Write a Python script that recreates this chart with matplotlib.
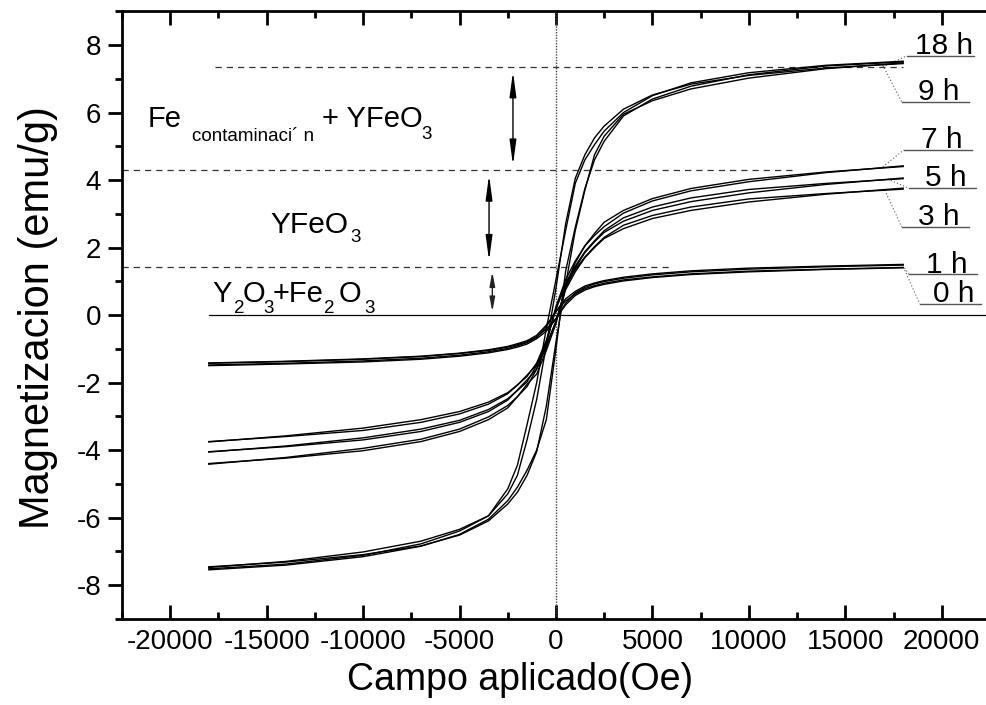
import matplotlib
matplotlib.use("Agg")
import matplotlib.pyplot as plt
from matplotlib.ticker import MultipleLocator

plt.rcParams['font.family'] = ['Liberation Sans', 'DejaVu Sans']

# Applied field grid (Oe) shared by every branch
field = [-18000, -14000, -10000, -7000, -5000, -3500, -2500, -2000, -1500, -1000, -500, 0,
         500, 1000, 1500, 2000, 2500, 3500, 5000, 7000, 10000, 14000, 18000]

# Magnetization (emu/g): descending branch (field going down) and ascending branch
m18_desc = [-7.52, -7.38, -7.12, -6.78, -6.40, -5.95, -5.15, -4.45, -3.25, -2.00, -0.40, 1.05,
            2.50, 3.90, 4.60, 5.05, 5.45, 6.00, 6.50, 6.88, 7.18, 7.40, 7.52]
m18_asc = [-7.55, -7.41, -7.16, -6.85, -6.50, -6.05, -5.50, -5.10, -4.60, -4.00, -3.10, -1.00,
           1.30, 2.60, 3.75, 4.60, 5.15, 5.90, 6.40, 6.78, 7.12, 7.38, 7.50]

m9_desc = [-7.48, -7.30, -7.02, -6.70, -6.35, -5.95, -5.30, -4.75, -3.70, -2.50, -0.90, 0.80,
           2.70, 4.05, 4.75, 5.25, 5.60, 6.10, 6.52, 6.84, 7.10, 7.32, 7.45]
m9_asc = [-7.46, -7.32, -7.10, -6.84, -6.52, -6.10, -5.60, -5.25, -4.75, -4.05, -2.70, -0.80,
          0.90, 2.50, 3.70, 4.75, 5.30, 5.95, 6.35, 6.70, 7.02, 7.30, 7.47]

m7_desc = [-4.42, -4.22, -3.95, -3.68, -3.38, -3.02, -2.68, -2.42, -2.12, -1.60, -0.85, 0.25,
           1.05, 1.60, 2.05, 2.42, 2.75, 3.10, 3.45, 3.75, 4.02, 4.24, 4.40]
m7_asc = [-4.40, -4.24, -4.02, -3.75, -3.45, -3.10, -2.75, -2.42, -2.05, -1.75, -1.05, -0.25,
          0.85, 1.55, 2.05, 2.36, 2.62, 3.02, 3.38, 3.68, 3.95, 4.22, 4.42]

m5_desc = [-4.06, -3.88, -3.64, -3.38, -3.12, -2.80, -2.48, -2.24, -1.98, -1.50, -0.80, 0.20,
           0.95, 1.45, 1.88, 2.20, 2.50, 2.88, 3.20, 3.47, 3.72, 3.90, 4.04]
m5_asc = [-4.05, -3.90, -3.70, -3.45, -3.18, -2.86, -2.52, -2.22, -1.92, -1.60, -0.95, -0.20,
          0.80, 1.40, 1.85, 2.17, 2.45, 2.78, 3.10, 3.36, 3.62, 3.87, 4.06]

m3_desc = [-3.76, -3.58, -3.35, -3.10, -2.86, -2.58, -2.30, -2.07, -1.82, -1.42, -0.75, 0.18,
           0.88, 1.35, 1.72, 2.03, 2.30, 2.66, 2.95, 3.20, 3.44, 3.60, 3.73]
m3_asc = [-3.75, -3.60, -3.42, -3.18, -2.93, -2.64, -2.33, -2.08, -1.78, -1.48, -0.88, -0.18,
          0.75, 1.28, 1.70, 2.00, 2.27, 2.56, 2.86, 3.10, 3.35, 3.58, 3.76]

m1_desc = [-1.48, -1.43, -1.36, -1.28, -1.19, -1.09, -0.99, -0.91, -0.82, -0.66, -0.35, 0.12,
           0.48, 0.70, 0.86, 0.95, 1.02, 1.12, 1.22, 1.31, 1.39, 1.45, 1.50]
m1_asc = [-1.50, -1.45, -1.39, -1.31, -1.22, -1.12, -1.02, -0.95, -0.86, -0.70, -0.48, -0.12,
          0.35, 0.66, 0.82, 0.92, 0.99, 1.09, 1.19, 1.28, 1.36, 1.43, 1.48]

m0_desc = [-1.42, -1.37, -1.30, -1.22, -1.13, -1.03, -0.93, -0.85, -0.76, -0.60, -0.30, 0.10,
           0.42, 0.62, 0.78, 0.87, 0.94, 1.04, 1.13, 1.22, 1.30, 1.36, 1.41]
m0_asc = [-1.43, -1.38, -1.31, -1.23, -1.14, -1.05, -0.95, -0.88, -0.79, -0.64, -0.42, -0.10,
          0.30, 0.58, 0.74, 0.84, 0.91, 1.01, 1.11, 1.20, 1.28, 1.35, 1.40]

loops = [(m0_desc, m0_asc), (m1_desc, m1_asc), (m3_desc, m3_asc), (m5_desc, m5_asc),
         (m7_desc, m7_asc), (m9_desc, m9_asc), (m18_desc, m18_asc)]

# Milling-time labels: underline level and the curve level the leader starts from
time_labels = ["18 h", "9 h", "7 h", "5 h", "3 h", "1 h", "0 h"]
label_line_m = [7.68, 6.31, 4.89, 3.76, 2.61, 1.21, 0.33]
curve_end_m = [7.35, 7.41, 4.39, 4.03, 3.70, 1.48, 1.33]

# Phase boundary levels (emu/g)
phase_levels = [7.35, 4.30, 1.43]

fig = plt.figure(figsize=(9.87, 7.05), dpi=100)
ax = fig.add_axes([0.1236, 0.1223, 0.8794, 0.8617])

for desc, asc in loops:
    ax.plot(field, desc, color='black', lw=1.0, zorder=3)
    ax.plot(field, asc, color='black', lw=1.0, zorder=3)

# Reference lines
ax.plot([-18000, 22500], [0, 0], color='black', lw=0.9, zorder=2)
ax.axvline(0, color='#444444', lw=1.0, ls=(0, (1, 1)), zorder=2)
ax.plot([-17700, 18000], [phase_levels[0]] * 2, color='#333333', lw=0.9,
        ls=(0, (5, 4)), zorder=2)
ax.plot([-22500, 12400], [phase_levels[1]] * 2, color='#333333', lw=0.9,
        ls=(0, (5, 4)), zorder=2)
ax.plot([-22500, 6000], [phase_levels[2]] * 2, color='#333333', lw=0.9,
        ls=(0, (5, 4)), zorder=2)

# Double arrows spanning each phase region
def vspan_arrow(x, y0, y1, hl, hw, color='black'):
    ax.annotate('', xy=(x, y1), xytext=(x, y0),
                arrowprops=dict(arrowstyle=f'<|-|>,head_length={hl},head_width={hw}',
                                color=color, lw=1.0, mutation_scale=10,
                                shrinkA=0, shrinkB=0))

vspan_arrow(-2230, 4.44, 7.21, 1.5, 0.2)
vspan_arrow(-3470, 1.61, 4.15, 1.5, 0.2)
vspan_arrow(-3300, 0.10, 1.28, 0.85, 0.16, color='#222222')

# Phase annotations (main text and lowered subscripts)
big, small = 21, 13.5
ax.text(-21190, 5.57, "Fe", fontsize=big, va='baseline', ha='left')
ax.text(-18860, 5.16, "contaminaci\u00b4 n", fontsize=small, va='baseline', ha='left')
ax.text(-12123, 5.57, "+ YFeO", fontsize=big, va='baseline', ha='left')
ax.text(-6960, 5.21, "3", fontsize=small, va='baseline', ha='left')

ax.text(-14818, 2.44, "YFeO", fontsize=21.5, va='baseline', ha='left')
ax.text(-10650, 2.17, "3", fontsize=small, va='baseline', ha='left')

oxide_parts = [("Y", big, 0.39), ("2", small, 0.06), ("O", big, 0.39), ("3", small, 0.06),
               ("+Fe", big, 0.39), ("2", small, 0.06), ("O", big, 0.39), ("3", small, 0.06)]
oxide_x = [-17800, -16700, -16250, -15150, -14700, -12050, -11250, -9950]
for (txt, fs, yb), xs in zip(oxide_parts, oxide_x):
    ax.text(xs, yb, txt, fontsize=fs, va='baseline', ha='left')

# Time labels with underline and dotted leader to the curve end
label_x0 = [18185, 17926, 18030, 18289, 17926, 18289, 18859]
label_x1 = [21657, 21397, 21553, 21760, 21397, 21812, 22020]
leader_x = [16942, 16942, 16942, 17201, 17045, 17978, 18082]
for lab, ym, ye, x0, x1, xl in zip(time_labels, label_line_m, curve_end_m,
                                   label_x0, label_x1, leader_x):
    ax.plot([x0, x1], [ym, ym], color='#555555', lw=1.0, clip_on=False)
    ax.plot([xl, x0], [ye, ym], color='#555555', lw=0.8, ls=(0, (1, 2)))
    ax.text((x0 + x1) / 2 + 200, ym + 0.05, lab, fontsize=21.5, ha='center',
            va='baseline')

ax.set_xlim(-22500, 22500)
ax.set_ylim(-9, 9)

ax.xaxis.set_minor_locator(MultipleLocator(2500))
ax.yaxis.set_minor_locator(MultipleLocator(1))
ax.set_xticks(range(-20000, 20001, 5000))
ax.set_yticks(range(-8, 9, 2))
ax.set_xticklabels([str(v) for v in range(-20000, 20001, 5000)])
ax.set_yticklabels([str(v) for v in range(-8, 9, 2)])

for s in ax.spines.values():
    s.set_linewidth(2.0)

ax.tick_params(axis='x', which='both', direction='in', top=True, bottom=True,
               labelsize=20, pad=7, width=2.0)
ax.tick_params(axis='x', which='major', length=10)
ax.tick_params(axis='x', which='minor', length=5)
ax.tick_params(axis='y', which='both', direction='out', left=True, right=False,
               labelsize=20, pad=5, width=2.0)
ax.tick_params(axis='y', which='major', length=10)
ax.tick_params(axis='y', which='minor', length=5)

fig.text(520 / 987, 1 - 680 / 705, "Campo aplicado(Oe)", fontsize=27,
         ha='center', va='center')
fig.text(38 / 987, 1 - 318 / 705, "Magnetizacion (emu/g)", fontsize=30,
         ha='center', va='center', rotation=90)

fig.savefig("out.png", dpi=100)
